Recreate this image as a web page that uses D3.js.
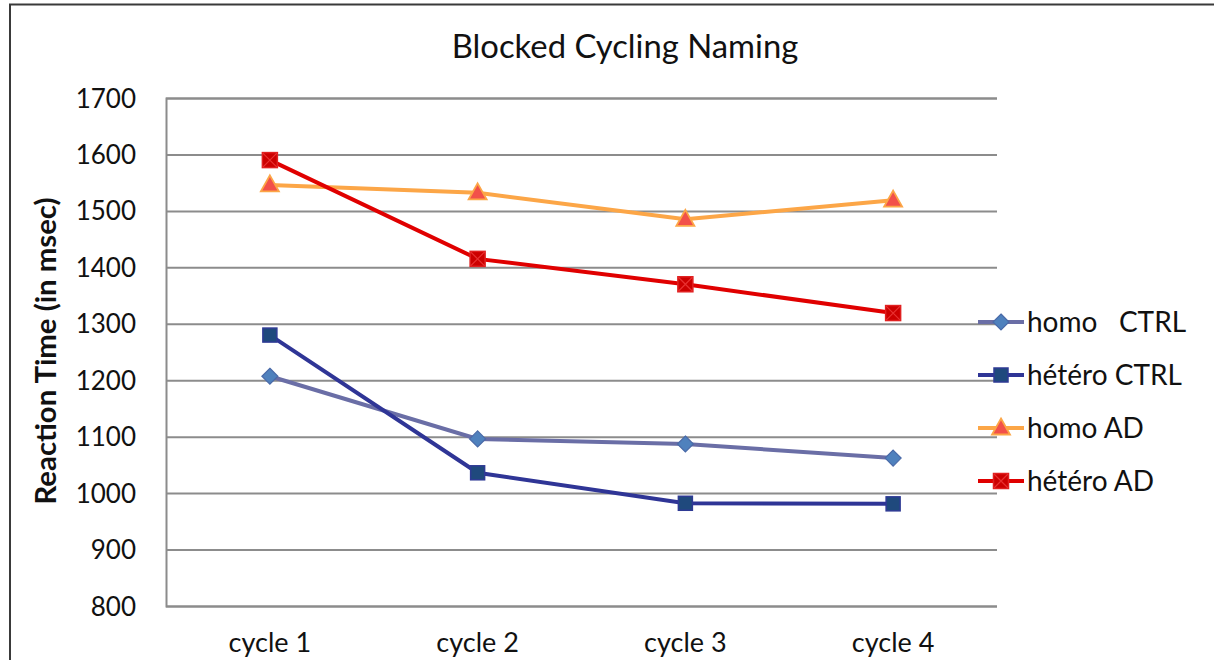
<!DOCTYPE html>
<html><head><meta charset="utf-8">
<script src="https://cdn.jsdelivr.net/npm/d3@7"></script>
<style>body{margin:0;background:#fff}svg{display:block}text{font-family:Lato,"Open Sans",sans-serif;fill:#111}</style>
</head><body><svg id="c" width="1214" height="660"></svg>
<script>
const categories = ["cycle 1","cycle 2","cycle 3","cycle 4"];
const seriesNames = ["homo   CTRL","hétéro CTRL","homo AD","hétéro AD"];
const homoCTRL = [1207,1096,1087,1062];
const heteroCTRL = [1280,1036,982,981];
const homoAD = [1546,1532,1485,1519];
const heteroAD = [1590,1415,1370,1319];
const yTicks = [800,900,1000,1100,1200,1300,1400,1500,1600,1700];
const title = "Blocked Cycling Naming";
const yTitle = "Reaction Time (in msec)";

const styles = [
  {line:"#6a6ea6", fill:"#4f81bd", stroke:"#4a6aa8", shape:"diamond"},
  {line:"#2f3596", fill:"#1f497d", stroke:"#2e3a94", shape:"square"},
  {line:"#fca647", fill:"#f2504a", stroke:"#fca647", shape:"triangle"},
  {line:"#e00000", fill:"#cc0000", stroke:"#e02020", shape:"xsquare"}
];
const data = [homoCTRL, heteroCTRL, homoAD, heteroAD];

const svg = d3.select("#c");
const L=166, R=997, T=98, B=606;
const x = d3.scaleBand().domain(categories).range([L,R]);
const y = d3.scaleLinear().domain([800,1700]).range([B,T]);

// outer border
svg.append("rect").attr("x",10).attr("y",4.5).attr("width",1230).attr("height",700)
  .attr("fill","none").attr("stroke","#3a3a3a").attr("stroke-width",2);

svg.append("text").attr("x",625).attr("y",58).attr("text-anchor","middle")
  .style("font-size","32.8px").text(title);

// grid
const yAxis = d3.axisLeft(y).tickValues(yTicks).tickSize(-(R-L)).tickPadding(30).tickFormat(d3.format("d"));
const gy = svg.append("g").attr("transform",`translate(${L},0)`).call(yAxis);
gy.select(".domain").attr("stroke","#8c8c8c").attr("stroke-width",2);
gy.selectAll(".tick line").attr("stroke","#8c8c8c").attr("stroke-width",2);
gy.selectAll(".tick text").style("font-size","26px").attr("font-family","Lato,'Open Sans',sans-serif").attr("fill","#111").attr("dy","0.35em");

const gx = svg.append("g").attr("transform",`translate(0,${B})`).call(d3.axisBottom(x).tickSize(0).tickPadding(27));
gx.select(".domain").remove();
gx.selectAll(".tick text").style("font-size","27px").attr("font-family","Lato,'Open Sans',sans-serif").attr("fill","#111");

svg.append("text").attr("transform",`translate(56,${(T+B)/2 - 1}) rotate(-90)`)
  .attr("text-anchor","middle").style("font-size","29.3px").style("font-weight","bold").text(yTitle);

function marker(g, cx, cy, st){
  if(st.shape==="diamond"){
    g.append("path").attr("d",`M${cx},${cy-8}L${cx+8},${cy}L${cx},${cy+8}L${cx-8},${cy}Z`)
      .attr("fill",st.fill).attr("stroke",st.stroke).attr("stroke-width",1.2);
  } else if(st.shape==="square"){
    g.append("rect").attr("x",cx-7).attr("y",cy-7).attr("width",14).attr("height",14)
      .attr("fill",st.fill).attr("stroke",st.stroke).attr("stroke-width",1.5);
  } else if(st.shape==="triangle"){
    g.append("path").attr("d",`M${cx},${cy-9.5}L${cx+9},${cy+6.5}L${cx-9},${cy+6.5}Z`)
      .attr("fill",st.fill).attr("stroke",st.stroke).attr("stroke-width",1.8);
  } else {
    g.append("rect").attr("x",cx-7.5).attr("y",cy-7.5).attr("width",15).attr("height",15)
      .attr("fill",st.fill).attr("stroke",st.stroke).attr("stroke-width",1.5);
    g.append("path").attr("d",`M${cx-7},${cy-7}L${cx+7},${cy+7}M${cx+7},${cy-7}L${cx-7},${cy+7}`)
      .attr("stroke","#e83030").attr("stroke-width",1.2);
  }
}

const line = d3.line().x((d,i)=>x(categories[i])+x.bandwidth()/2).y(d=>y(d));
data.forEach((vals,si)=>{
  const st = styles[si];
  const g = svg.append("g");
  g.append("path").attr("d",line(vals)).attr("fill","none").attr("stroke",st.line).attr("stroke-width",4);
  vals.forEach((v,i)=>marker(g, x(categories[i])+x.bandwidth()/2, y(v), st));
});

// legend
const legY = [322,375,428,481];
seriesNames.forEach((n,i)=>{
  const st = styles[i];
  const g = svg.append("g");
  g.append("line").attr("x1",978).attr("x2",1024).attr("y1",legY[i]).attr("y2",legY[i]).attr("stroke",st.line).attr("stroke-width",4);
  marker(g, 1001, legY[i], st);
  g.append("text").attr("x",1027).attr("y",legY[i]).attr("dy","0.35em").style("font-size","28px").style("white-space","pre").attr("xml:space","preserve").text(n);
});
</script></body></html>
